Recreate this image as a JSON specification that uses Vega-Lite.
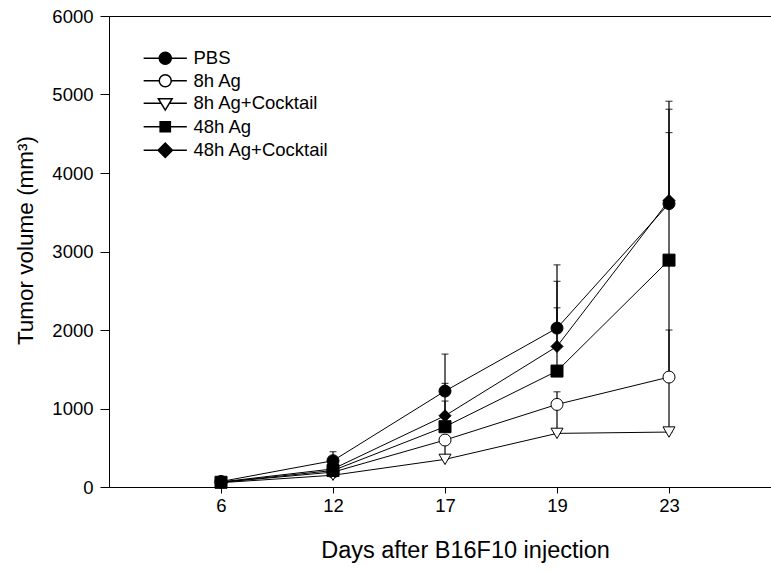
{
  "$schema": "https://vega.github.io/schema/vega-lite/v6.json",
  "width": 662,
  "height": 471,
  "autosize": {"type": "none"},
  "padding": {"left": 109, "top": 16, "right": 0, "bottom": 84},
  "background": "white",
  "config": {
    "view": {"stroke": null},
    "font": "Liberation Sans",
    "axis": {"domainColor": "black", "tickColor": "black", "labelColor": "black", "titleColor": "black", "titleFontWeight": "normal", "labelFont": "Liberation Sans", "titleFont": "Liberation Sans", "grid": false},
    "legend": {"labelFont": "Liberation Sans", "labelColor": "black"}
  },
  "data": {
    "values": [
      {"group": "PBS", "day": 6, "v": 70, "lo": 70, "hi": 90},
      {"group": "PBS", "day": 12, "v": 335, "lo": 335, "hi": 450},
      {"group": "PBS", "day": 17, "v": 1222, "lo": 1222, "hi": 1693},
      {"group": "PBS", "day": 19, "v": 2024, "lo": 2024, "hi": 2830},
      {"group": "PBS", "day": 23, "v": 3610, "lo": 3610, "hi": 4914},
      {"group": "8h Ag", "day": 6, "v": 60, "lo": 60, "hi": 60},
      {"group": "8h Ag", "day": 12, "v": 190, "lo": 190, "hi": 210},
      {"group": "8h Ag", "day": 17, "v": 598, "lo": 352, "hi": 628},
      {"group": "8h Ag", "day": 19, "v": 1052, "lo": 683, "hi": 1213},
      {"group": "8h Ag", "day": 23, "v": 1400, "lo": 700, "hi": 2000},
      {"group": "8h Ag+Cocktail", "day": 6, "v": 55, "lo": 55, "hi": 55},
      {"group": "8h Ag+Cocktail", "day": 12, "v": 150, "lo": 150, "hi": 150},
      {"group": "8h Ag+Cocktail", "day": 17, "v": 352, "lo": 352, "hi": 352},
      {"group": "8h Ag+Cocktail", "day": 19, "v": 683, "lo": 683, "hi": 683},
      {"group": "8h Ag+Cocktail", "day": 23, "v": 700, "lo": 700, "hi": 700},
      {"group": "48h Ag", "day": 6, "v": 60, "lo": 60, "hi": 60},
      {"group": "48h Ag", "day": 12, "v": 210, "lo": 210, "hi": 230},
      {"group": "48h Ag", "day": 17, "v": 768, "lo": 768, "hi": 1095},
      {"group": "48h Ag", "day": 19, "v": 1477, "lo": 1477, "hi": 2283},
      {"group": "48h Ag", "day": 23, "v": 2890, "lo": 1400, "hi": 4515},
      {"group": "48h Ag+Cocktail", "day": 6, "v": 65, "lo": 65, "hi": 65},
      {"group": "48h Ag+Cocktail", "day": 12, "v": 230, "lo": 230, "hi": 250},
      {"group": "48h Ag+Cocktail", "day": 17, "v": 908, "lo": 908, "hi": 1320},
      {"group": "48h Ag+Cocktail", "day": 19, "v": 1791, "lo": 1791, "hi": 2620},
      {"group": "48h Ag+Cocktail", "day": 23, "v": 3650, "lo": 3650, "hi": 4812}
    ]
  },
  "layer": [
    {
      "mark": {"type": "line", "color": "black", "strokeWidth": 1},
      "encoding": {
        "x": {"field": "day", "type": "ordinal", "scale": {"type": "point", "range": [0, 672], "padding": 1},
          "axis": {"orient": "bottom", "labelAngle": 0, "labelFontSize": 18.5, "titleFontSize": 23.5, "tickSize": 6, "labelPadding": 3, "titlePadding": 24, "titleX": 356, "title": "Days after B16F10 injection"}},
        "y": {"field": "v", "type": "quantitative", "scale": {"domain": [0, 6000], "nice": false},
          "axis": {"values": [0, 1000, 2000, 3000, 4000, 5000, 6000], "format": "d", "labelFontSize": 18.5, "titleFontSize": 22.5, "tickSize": 9, "labelPadding": 7, "titlePadding": 14, "titleY": 224, "title": "Tumor volume (mm³)"}},
        "detail": {"field": "group"}
      }
    },
    {
      "mark": {"type": "rule", "color": "black", "strokeWidth": 1.2},
      "encoding": {
        "x": {"field": "day", "type": "ordinal", "axis": null},
        "y": {"field": "lo", "type": "quantitative"},
        "y2": {"field": "hi"}
      }
    },
    {
      "mark": {"type": "tick", "color": "black", "thickness": 1.2, "size": 7, "orient": "horizontal"},
      "encoding": {
        "x": {"field": "day", "type": "ordinal", "axis": {"orient": "top", "labels": false, "ticks": false, "title": null, "domain": true, "domainColor": "black"}},
        "y": {"field": "hi", "type": "quantitative"}
      }
    },
    {
      "mark": {"type": "point", "filled": true, "stroke": "black", "strokeWidth": 1, "opacity": 1},
      "encoding": {
        "x": {"field": "day", "type": "ordinal", "axis": null},
        "y": {"field": "v", "type": "quantitative"},
        "shape": {"field": "group", "type": "nominal", "legend": null,
          "scale": {"domain": ["PBS", "8h Ag", "8h Ag+Cocktail", "48h Ag", "48h Ag+Cocktail"], "range": ["circle", "circle", "triangle-down", "square", "diamond"]}},
        "fill": {"field": "group", "type": "nominal", "legend": null,
          "scale": {"domain": ["PBS", "8h Ag", "8h Ag+Cocktail", "48h Ag", "48h Ag+Cocktail"], "range": ["black", "white", "white", "black", "black"]}},
        "size": {"field": "group", "type": "nominal", "legend": null,
          "scale": {"domain": ["PBS", "8h Ag", "8h Ag+Cocktail", "48h Ag", "48h Ag+Cocktail"], "range": [144, 144, 150, 100, 180]}}
      }
    },
    {
      "transform": [{"filter": "false"}],
      "mark": {"type": "point", "filled": true, "stroke": "black", "strokeWidth": 1, "opacity": 1},
      "encoding": {
        "x": {"field": "day", "type": "ordinal", "axis": null},
        "y": {"field": "v", "type": "quantitative"},
        "shape": {"field": "group", "type": "nominal",
          "scale": {"domain": ["PBS", "8h Ag", "8h Ag+Cocktail", "48h Ag", "48h Ag+Cocktail"],
            "range": [
              "M-3.6,0H-1M1,0H3.6M-1,0A1,1 0 1,0 1,0A1,1 0 1,0 -1,0Z",
              "M-3.6,0H-1M1,0H3.6M-1,0A1,1 0 1,0 1,0A1,1 0 1,0 -1,0Z",
              "M-3.6,0H-0.7M0.7,0H3.6M-1.15,-0.75L1.15,-0.75L0,1.15Z",
              "M-3.6,0H3.6M-0.85,-0.85H0.85V0.85H-0.85Z",
              "M-3.6,0H3.6M-1.2,0L0,-1.2L1.2,0L0,1.2Z"
            ]},
          "legend": {"orient": "none", "legendX": 47, "legendY": 33, "title": null, "symbolSize": 144, "labelFontSize": 18.5, "labelOffset": 19, "rowPadding": 3.5, "padding": 0,
            "encode": {"symbols": {"update": {"stroke": {"value": "black"}, "strokeWidth": {"value": 1}, "opacity": {"value": 1}}}}}},
        "fill": {"field": "group", "type": "nominal",
          "scale": {"domain": ["PBS", "8h Ag", "8h Ag+Cocktail", "48h Ag", "48h Ag+Cocktail"], "range": ["black", "white", "white", "black", "black"]},
          "legend": {"orient": "none", "legendX": 47, "legendY": 33, "title": null, "symbolSize": 144, "labelFontSize": 18.5, "labelOffset": 19, "rowPadding": 3.5, "padding": 0,
            "encode": {"symbols": {"update": {"stroke": {"value": "black"}, "strokeWidth": {"value": 1}, "opacity": {"value": 1}}}}}}
      }
    }
  ],
  "resolve": {"scale": {"shape": "independent", "fill": "independent", "size": "independent"}, "axis": {"x": "independent"}}
}
